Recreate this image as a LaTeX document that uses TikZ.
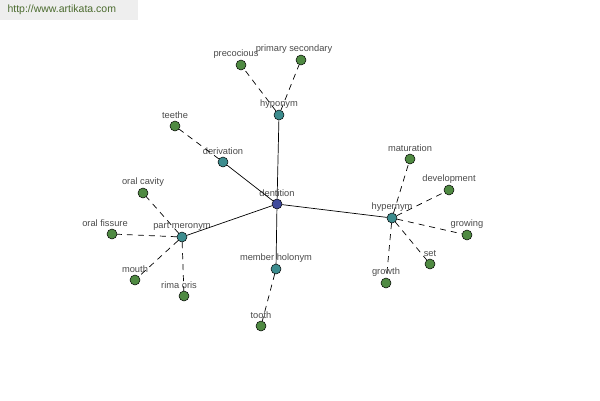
\documentclass[tikz,border=0pt]{standalone}
\usepackage{fontspec}
\setmainfont{Liberation Sans}
\definecolor{hubcol}{HTML}{3F4A9C}
\definecolor{relcol}{HTML}{3C8C8E}
\definecolor{leafcol}{HTML}{4F8A42}
\definecolor{txtcol}{HTML}{4A4A4A}
\definecolor{markcol}{HTML}{EEEEEE}
\definecolor{urlcol}{HTML}{4B6B2E}
\tikzset{
  vert/.style={circle, draw = black, line width = 0.5pt, minimum size = 10pt, inner sep = 0pt},
  lbl/.style={text = txtcol, font = \fontsize{9.3}{11}\selectfont, inner sep = 0pt, label distance = 1.5pt},
  solidlink/.style={draw = black, line width = 0.7pt},
  dashlink/.style={draw = black, line width = 0.7pt, dash pattern = on 6pt off 5pt}
}
\begin{document}
\begin{tikzpicture}[x = 1pt, y = -1pt]
\useasboundingbox (0, 0) rectangle (600, 400);
\fill[markcol] (0, 0) rectangle (138, 20);
\node[text = urlcol, font = \fontsize{10.5}{12}\selectfont, anchor = west] (url) at (4, 10) {http://www.artikata.com};
% centre and relation nodes
\node[vert, fill = hubcol, label = {[lbl]above:dentition}] (dentition) at (277, 204) {};
\node[vert, fill = relcol, label = {[lbl]above:hyponym}] (hyponym) at (279, 115) {};
\node[vert, fill = relcol, label = {[lbl]above:derivation}] (derivation) at (223, 162) {};
\node[vert, fill = relcol, label = {[lbl]above:part meronym}] (partmeronym) at (182, 237) {};
\node[vert, fill = relcol, label = {[lbl]above:member holonym}] (memberholonym) at (276, 269) {};
\node[vert, fill = relcol, label = {[lbl]above:hypernym}] (hypernym) at (392, 218) {};
% leaves
\node[vert, fill = leafcol, label = {[lbl, xshift = -5pt]above:precocious}] (precocious) at (241, 65) {};
\node[vert, fill = leafcol, label = {[lbl, xshift = -7pt]above:primary secondary}] (primarysecondary) at (301, 60) {};
\node[vert, fill = leafcol, label = {[lbl]above:teethe}] (teethe) at (175, 126) {};
\node[vert, fill = leafcol, label = {[lbl]above:oral cavity}] (oralcavity) at (143, 193) {};
\node[vert, fill = leafcol, label = {[lbl, xshift = -7pt]above:oral fissure}] (oralfissure) at (112, 234) {};
\node[vert, fill = leafcol, label = {[lbl]above:mouth}] (mouth) at (135, 280) {};
\node[vert, fill = leafcol, label = {[lbl, xshift = -5pt]above:rima oris}] (rimaoris) at (184, 296) {};
\node[vert, fill = leafcol, label = {[lbl]above:tooth}] (tooth) at (261, 326) {};
\node[vert, fill = leafcol, label = {[lbl]above:maturation}] (maturation) at (410, 159) {};
\node[vert, fill = leafcol, label = {[lbl]above:development}] (development) at (449, 190) {};
\node[vert, fill = leafcol, label = {[lbl]above:growing}] (growing) at (467, 235) {};
\node[vert, fill = leafcol, label = {[lbl]above:set}] (set) at (430, 264) {};
\node[vert, fill = leafcol, label = {[lbl]above:growth}] (growth) at (386, 283) {};
% links
\draw[solidlink] (dentition) -- (hyponym);
\draw[solidlink] (dentition) -- (derivation);
\draw[solidlink] (dentition) -- (partmeronym);
\draw[solidlink] (dentition) -- (memberholonym);
\draw[solidlink] (dentition) -- (hypernym);
\draw[dashlink] (hyponym) -- (precocious);
\draw[dashlink] (hyponym) -- (primarysecondary);
\draw[dashlink] (derivation) -- (teethe);
\draw[dashlink] (partmeronym) -- (oralcavity);
\draw[dashlink] (partmeronym) -- (oralfissure);
\draw[dashlink] (partmeronym) -- (mouth);
\draw[dashlink] (partmeronym) -- (rimaoris);
\draw[dashlink] (memberholonym) -- (tooth);
\draw[dashlink] (hypernym) -- (maturation);
\draw[dashlink] (hypernym) -- (development);
\draw[dashlink] (hypernym) -- (growing);
\draw[dashlink] (hypernym) -- (set);
\draw[dashlink] (hypernym) -- (growth);
\end{tikzpicture}
\end{document}
